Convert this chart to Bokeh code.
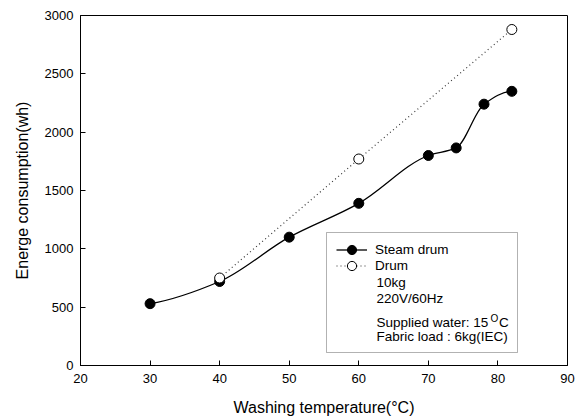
import numpy as np
from bokeh.plotting import figure
from bokeh.models import (Range1d, FixedTicker, Legend, LegendItem, Label,
                          BoxAnnotation, ColumnDataSource)
from bokeh.embed import file_html
from bokeh.resources import INLINE

# ---- data ----
temp_steam = [30, 40, 50, 60, 70, 74, 78, 82]
energy_steam = [530, 720, 1100, 1390, 1800, 1865, 2240, 2350]
temp_drum = [40, 60, 82]
energy_drum = [750, 1770, 2880]
x_ticks = [20, 30, 40, 50, 60, 70, 80, 90]
y_ticks = [0, 500, 1000, 1500, 2000, 2500, 3000]
series_names = ["Steam drum", "Drum"]
note_lines = ["10kg", "220V/60Hz"]
water_note = ["Supplied water: 15", "O", "C"]
load_note = "Fabric load : 6kg(IEC)"
x_title = "Washing temperature(°C)"
y_title = "Energe consumption(wh)"

FONT = "Liberation Sans"
LEG_FS = "13.5px"


def pchip_slopes(x, y):
    x = np.asarray(x, float)
    y = np.asarray(y, float)
    h = np.diff(x)
    d = np.diff(y) / h
    n = len(x)
    m = np.zeros(n)
    for k in range(1, n - 1):
        if d[k - 1] * d[k] <= 0:
            m[k] = 0.0
        else:
            w1 = 2 * h[k] + h[k - 1]
            w2 = h[k] + 2 * h[k - 1]
            m[k] = (w1 + w2) / (w1 / d[k - 1] + w2 / d[k])

    def end(h0, h1, d0, d1):
        v = ((2 * h0 + h1) * d0 - h0 * d1) / (h0 + h1)
        if np.sign(v) != np.sign(d0):
            v = 0.0
        elif np.sign(d0) != np.sign(d1) and abs(v) > abs(3 * d0):
            v = 3 * d0
        return v

    m[0] = end(h[0], h[1], d[0], d[1])
    m[-1] = end(h[-1], h[-2], d[-1], d[-2])
    return x, y, h, m


xs, ys, hs, ms = pchip_slopes(temp_steam, energy_steam)
bez_src = ColumnDataSource(dict(
    x0=xs[:-1], y0=ys[:-1], x1=xs[1:], y1=ys[1:],
    cx0=xs[:-1] + hs / 3, cy0=ys[:-1] + ms[:-1] * hs / 3,
    cx1=xs[1:] - hs / 3, cy1=ys[1:] - ms[1:] * hs / 3,
))

p = figure(width=583, height=418, output_backend="svg", toolbar_location=None,
           x_range=Range1d(20, 90), y_range=Range1d(0, 3000),
           min_border_left=80, min_border_right=16, min_border_top=15,
           min_border_bottom=52)
p.grid.visible = False
p.outline_line_color = "black"
p.outline_line_width = 1
p.background_fill_color = "white"
p.border_fill_color = "white"

for ax, ticks in ((p.xaxis, x_ticks), (p.yaxis, y_ticks)):
    ax.ticker = FixedTicker(ticks=ticks)
    ax.major_tick_in = 5
    ax.major_tick_out = 0
    ax.minor_tick_in = 0
    ax.minor_tick_out = 0
    ax.axis_line_color = "black"
    ax.major_tick_line_color = "black"
    ax.major_label_text_font = FONT
    ax.major_label_text_font_size = "13px"
    ax.major_label_text_color = "black"
    ax.axis_label_text_font = FONT
    ax.axis_label_text_font_size = "16px"
    ax.axis_label_text_font_style = "normal"
    ax.axis_label_text_color = "black"

p.xaxis.axis_label = x_title
p.yaxis.axis_label = y_title
p.xaxis.major_label_standoff = 8
p.xaxis.axis_label_standoff = 13
p.yaxis.major_label_standoff = 7
p.yaxis.axis_label_standoff = 11

# Drum: dotted straight line with open circles
r_drum_line = p.line(temp_drum, energy_drum, line_color="#333333",
                     line_width=1.2, line_dash="1 3")
# Steam drum: smooth curve with filled circles
r_steam_curve = p.bezier(x0="x0", y0="y0", x1="x1", y1="y1", cx0="cx0",
                         cy0="cy0", cx1="cx1", cy1="cy1", source=bez_src,
                         line_color="black", line_width=1.3)
r_steam_pts = p.scatter(temp_steam, energy_steam, size=10, fill_color="black",
                        line_color="black")
r_drum_pts = p.scatter(temp_drum, energy_drum, size=10, fill_color="white",
                       line_color="black", line_width=1)

# legend box
box = BoxAnnotation(left=246, right=437, top=133, bottom=13,
                    left_units="screen", right_units="screen",
                    top_units="screen", bottom_units="screen",
                    fill_color="white", fill_alpha=1.0,
                    line_color="black", line_width=1)
p.add_layout(box)

leg_kw = dict(orientation="vertical", border_line_color=None,
              background_fill_alpha=0, padding=0, margin=0, spacing=0,
              glyph_height=23, glyph_width=31, label_height=15,
              label_standoff=8, label_text_font=FONT,
              label_text_font_size=LEG_FS, label_text_color="black")
legend1 = Legend(items=[LegendItem(label=series_names[0],
                                   renderers=[r_steam_curve, r_steam_pts])],
                 location=(256, 104), **leg_kw)
legend2 = Legend(items=[LegendItem(label=series_names[1],
                                   renderers=[r_drum_line, r_drum_pts])],
                 location=(256, 88), **leg_kw)
p.add_layout(legend1)
p.add_layout(legend2)

lab_kw = dict(x_units="screen", y_units="screen", text_font=FONT,
              text_font_size=LEG_FS, text_color="black",
              text_baseline="middle", text_align="left")
p.add_layout(Label(x=296, y=83.5, text=note_lines[0], **lab_kw))
p.add_layout(Label(x=296, y=67.5, text=note_lines[1], **lab_kw))
p.add_layout(Label(x=296, y=43.5, text=water_note[0], **lab_kw))
sup_kw = dict(lab_kw)
sup_kw["text_font_size"] = "10px"
p.add_layout(Label(x=410, y=47.5, text=water_note[1], **sup_kw))
p.add_layout(Label(x=418.5, y=43.5, text=water_note[2], **lab_kw))
p.add_layout(Label(x=296, y=29, text=load_note, **lab_kw))

open("out.html", "w").write(file_html(p, INLINE))
